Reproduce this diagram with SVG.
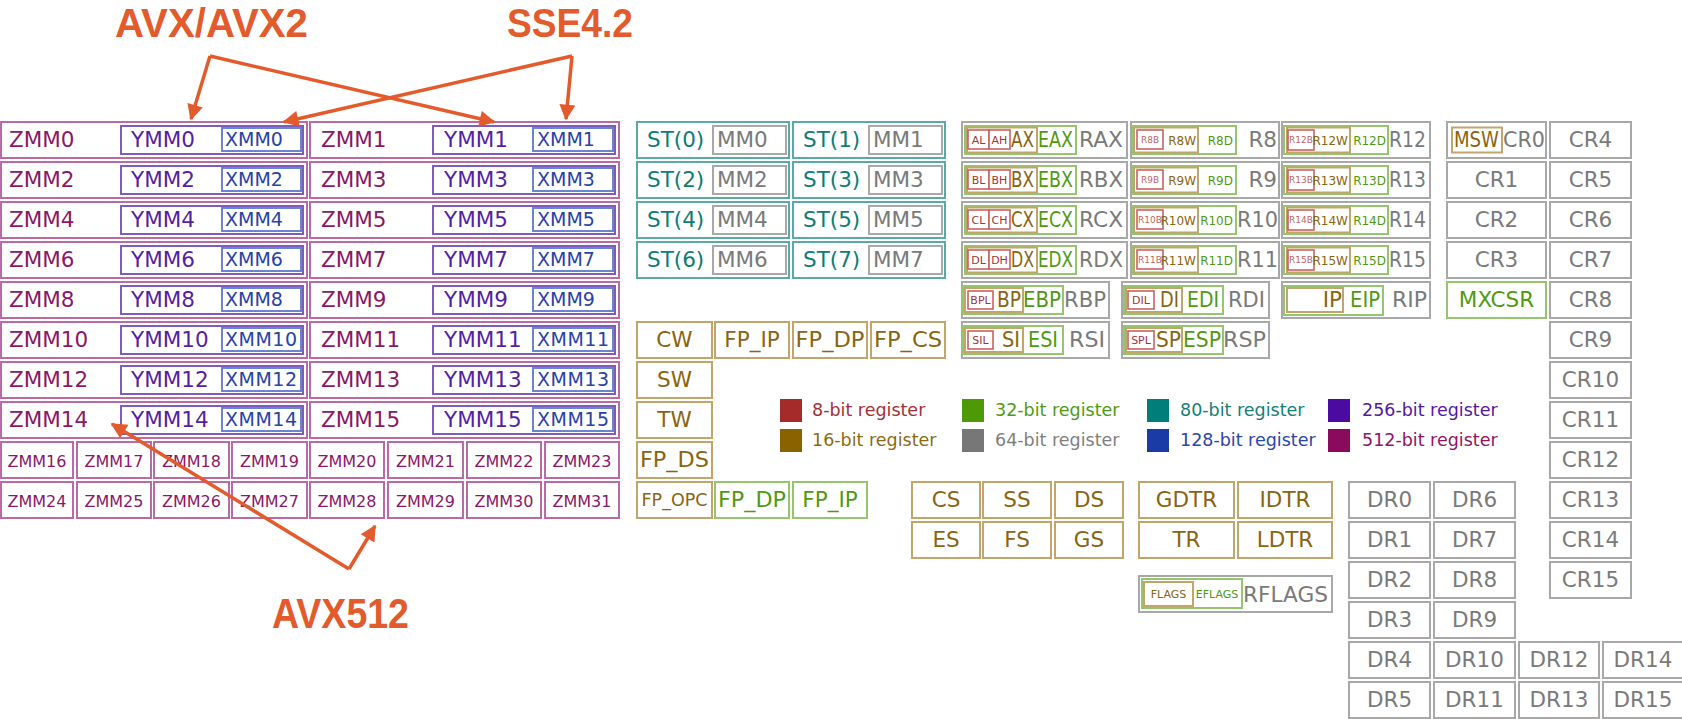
<svg xmlns="http://www.w3.org/2000/svg" width="1682" height="719" viewBox="0 0 1682 719">
<defs>
<style>
text{font-family:"DejaVu Sans","Liberation Sans",sans-serif;font-size:21.5px}
rect{fill:#fff;stroke-width:2}
.bz{stroke:#b86aa9}
.by{stroke:#7e5cbf}
.bx{stroke:#6a84cf}
.bt{stroke:#5aa9a5}
.bg{stroke:#a8a8a8}
.bn{stroke:#c2a56a}
.be{stroke:#95c56d}
.br{stroke:#c86262;stroke-width:1.6}
.tz{fill:#8b1767}
.ty{fill:#561fa3}
.tx{fill:#2843a6;font-size:19px}
.tt{fill:#0d7d77}
.tg{fill:#7a7a7a}
.tn{fill:#8a6410}
.te{fill:#4f9a12}
.tr{fill:#a8333a}
.tl{fill:#c06565}
.s9{font-size:9px}
.s11{font-size:11px}
.s12{font-size:12px}
.s16{font-size:16px}
.lg{font-size:17.5px}
.m{text-anchor:middle}
.e{text-anchor:end}
.lab{font-family:"Liberation Sans","DejaVu Sans",sans-serif;font-weight:bold;fill:#e35b2c}
.arr{fill:none;stroke:#e35b2c;stroke-width:3.5}
</style>
<marker id="ah" viewBox="0 0 10 10" refX="9" refY="5" markerWidth="20" markerHeight="16" markerUnits="userSpaceOnUse" orient="auto">
<path d="M0,0 L10,5 L0,10 z" fill="#e35b2c"/>
</marker>
</defs>
<rect x="0" y="0" width="1682" height="719" style="fill:#fff;stroke:none"/>

<!-- ZMM / YMM / XMM rows -->
<g id="zmm0"><rect class="bz" x="1" y="122" width="306" height="36"/><text class="tz" x="9" y="147">ZMM0</text><g id="ymm0"><rect class="by" x="121" y="126" width="182" height="28"/><text class="ty" x="131" y="147">YMM0</text><g id="xmm0"><rect class="bx" x="222" y="128" width="79" height="23"/><text class="tx" x="225" y="146">XMM0</text></g></g></g>
<g id="zmm1"><rect class="bz" x="310" y="122" width="309" height="36"/><text class="tz" x="321" y="147">ZMM1</text><g id="ymm1"><rect class="by" x="433" y="126" width="182" height="28"/><text class="ty" x="444" y="147">YMM1</text><g id="xmm1"><rect class="bx" x="533" y="128" width="80" height="23"/><text class="tx" x="537" y="146">XMM1</text></g></g></g>
<g id="zmm2"><rect class="bz" x="1" y="162" width="306" height="36"/><text class="tz" x="9" y="187">ZMM2</text><g id="ymm2"><rect class="by" x="121" y="166" width="182" height="28"/><text class="ty" x="131" y="187">YMM2</text><g id="xmm2"><rect class="bx" x="222" y="168" width="79" height="23"/><text class="tx" x="225" y="186">XMM2</text></g></g></g>
<g id="zmm3"><rect class="bz" x="310" y="162" width="309" height="36"/><text class="tz" x="321" y="187">ZMM3</text><g id="ymm3"><rect class="by" x="433" y="166" width="182" height="28"/><text class="ty" x="444" y="187">YMM3</text><g id="xmm3"><rect class="bx" x="533" y="168" width="80" height="23"/><text class="tx" x="537" y="186">XMM3</text></g></g></g>
<g id="zmm4"><rect class="bz" x="1" y="202" width="306" height="36"/><text class="tz" x="9" y="227">ZMM4</text><g id="ymm4"><rect class="by" x="121" y="206" width="182" height="28"/><text class="ty" x="131" y="227">YMM4</text><g id="xmm4"><rect class="bx" x="222" y="208" width="79" height="23"/><text class="tx" x="225" y="226">XMM4</text></g></g></g>
<g id="zmm5"><rect class="bz" x="310" y="202" width="309" height="36"/><text class="tz" x="321" y="227">ZMM5</text><g id="ymm5"><rect class="by" x="433" y="206" width="182" height="28"/><text class="ty" x="444" y="227">YMM5</text><g id="xmm5"><rect class="bx" x="533" y="208" width="80" height="23"/><text class="tx" x="537" y="226">XMM5</text></g></g></g>
<g id="zmm6"><rect class="bz" x="1" y="242" width="306" height="36"/><text class="tz" x="9" y="267">ZMM6</text><g id="ymm6"><rect class="by" x="121" y="246" width="182" height="28"/><text class="ty" x="131" y="267">YMM6</text><g id="xmm6"><rect class="bx" x="222" y="248" width="79" height="23"/><text class="tx" x="225" y="266">XMM6</text></g></g></g>
<g id="zmm7"><rect class="bz" x="310" y="242" width="309" height="36"/><text class="tz" x="321" y="267">ZMM7</text><g id="ymm7"><rect class="by" x="433" y="246" width="182" height="28"/><text class="ty" x="444" y="267">YMM7</text><g id="xmm7"><rect class="bx" x="533" y="248" width="80" height="23"/><text class="tx" x="537" y="266">XMM7</text></g></g></g>
<g id="zmm8"><rect class="bz" x="1" y="282" width="306" height="36"/><text class="tz" x="9" y="307">ZMM8</text><g id="ymm8"><rect class="by" x="121" y="286" width="182" height="28"/><text class="ty" x="131" y="307">YMM8</text><g id="xmm8"><rect class="bx" x="222" y="288" width="79" height="23"/><text class="tx" x="225" y="306">XMM8</text></g></g></g>
<g id="zmm9"><rect class="bz" x="310" y="282" width="309" height="36"/><text class="tz" x="321" y="307">ZMM9</text><g id="ymm9"><rect class="by" x="433" y="286" width="182" height="28"/><text class="ty" x="444" y="307">YMM9</text><g id="xmm9"><rect class="bx" x="533" y="288" width="80" height="23"/><text class="tx" x="537" y="306">XMM9</text></g></g></g>
<g id="zmm10"><rect class="bz" x="1" y="322" width="306" height="36"/><text class="tz" x="9" y="347">ZMM10</text><g id="ymm10"><rect class="by" x="121" y="326" width="182" height="28"/><text class="ty" x="131" y="347">YMM10</text><g id="xmm10"><rect class="bx" x="222" y="328" width="79" height="23"/><text class="tx" x="225" y="346" textLength="72">XMM10</text></g></g></g>
<g id="zmm11"><rect class="bz" x="310" y="322" width="309" height="36"/><text class="tz" x="321" y="347">ZMM11</text><g id="ymm11"><rect class="by" x="433" y="326" width="182" height="28"/><text class="ty" x="444" y="347">YMM11</text><g id="xmm11"><rect class="bx" x="533" y="328" width="80" height="23"/><text class="tx" x="537" y="346" textLength="72">XMM11</text></g></g></g>
<g id="zmm12"><rect class="bz" x="1" y="362" width="306" height="36"/><text class="tz" x="9" y="387">ZMM12</text><g id="ymm12"><rect class="by" x="121" y="366" width="182" height="28"/><text class="ty" x="131" y="387">YMM12</text><g id="xmm12"><rect class="bx" x="222" y="368" width="79" height="23"/><text class="tx" x="225" y="386" textLength="72">XMM12</text></g></g></g>
<g id="zmm13"><rect class="bz" x="310" y="362" width="309" height="36"/><text class="tz" x="321" y="387">ZMM13</text><g id="ymm13"><rect class="by" x="433" y="366" width="182" height="28"/><text class="ty" x="444" y="387">YMM13</text><g id="xmm13"><rect class="bx" x="533" y="368" width="80" height="23"/><text class="tx" x="537" y="386" textLength="72">XMM13</text></g></g></g>
<g id="zmm14"><rect class="bz" x="1" y="402" width="306" height="36"/><text class="tz" x="9" y="427">ZMM14</text><g id="ymm14"><rect class="by" x="121" y="406" width="182" height="28"/><text class="ty" x="131" y="427">YMM14</text><g id="xmm14"><rect class="bx" x="222" y="408" width="79" height="23"/><text class="tx" x="225" y="426" textLength="72">XMM14</text></g></g></g>
<g id="zmm15"><rect class="bz" x="310" y="402" width="309" height="36"/><text class="tz" x="321" y="427">ZMM15</text><g id="ymm15"><rect class="by" x="433" y="406" width="182" height="28"/><text class="ty" x="444" y="427">YMM15</text><g id="xmm15"><rect class="bx" x="533" y="408" width="80" height="23"/><text class="tx" x="537" y="426" textLength="72">XMM15</text></g></g></g>

<!-- ZMM16-31 -->
<g id="zmm16"><rect class="bz" x="1" y="442" width="72" height="36"/><text class="tz s16 m" x="37" y="466.5">ZMM16</text></g>
<g id="zmm17"><rect class="bz" x="77" y="442" width="74" height="36"/><text class="tz s16 m" x="114" y="466.5">ZMM17</text></g>
<g id="zmm18"><rect class="bz" x="154" y="442" width="75" height="36"/><text class="tz s16 m" x="191.5" y="466.5">ZMM18</text></g>
<g id="zmm19"><rect class="bz" x="232" y="442" width="75" height="36"/><text class="tz s16 m" x="269.5" y="466.5">ZMM19</text></g>
<g id="zmm20"><rect class="bz" x="310" y="442" width="74" height="36"/><text class="tz s16 m" x="347" y="466.5">ZMM20</text></g>
<g id="zmm21"><rect class="bz" x="388" y="442" width="75" height="36"/><text class="tz s16 m" x="425.5" y="466.5">ZMM21</text></g>
<g id="zmm22"><rect class="bz" x="467" y="442" width="74" height="36"/><text class="tz s16 m" x="504" y="466.5">ZMM22</text></g>
<g id="zmm23"><rect class="bz" x="545" y="442" width="74" height="36"/><text class="tz s16 m" x="582" y="466.5">ZMM23</text></g>
<g id="zmm24"><rect class="bz" x="1" y="482" width="72" height="36"/><text class="tz s16 m" x="37" y="506.5">ZMM24</text></g>
<g id="zmm25"><rect class="bz" x="77" y="482" width="74" height="36"/><text class="tz s16 m" x="114" y="506.5">ZMM25</text></g>
<g id="zmm26"><rect class="bz" x="154" y="482" width="75" height="36"/><text class="tz s16 m" x="191.5" y="506.5">ZMM26</text></g>
<g id="zmm27"><rect class="bz" x="232" y="482" width="75" height="36"/><text class="tz s16 m" x="269.5" y="506.5">ZMM27</text></g>
<g id="zmm28"><rect class="bz" x="310" y="482" width="74" height="36"/><text class="tz s16 m" x="347" y="506.5">ZMM28</text></g>
<g id="zmm29"><rect class="bz" x="388" y="482" width="75" height="36"/><text class="tz s16 m" x="425.5" y="506.5">ZMM29</text></g>
<g id="zmm30"><rect class="bz" x="467" y="482" width="74" height="36"/><text class="tz s16 m" x="504" y="506.5">ZMM30</text></g>
<g id="zmm31"><rect class="bz" x="545" y="482" width="74" height="36"/><text class="tz s16 m" x="582" y="506.5">ZMM31</text></g>

<!-- ST / MM -->
<g id="st0"><rect class="bt" x="637" y="122" width="152" height="36"/><text class="tt" x="647" y="147">ST(0)</text><g id="mm0"><rect class="bg" x="713" y="126" width="73" height="28"/><text class="tg" x="717" y="147">MM0</text></g></g>
<g id="st1"><rect class="bt" x="793" y="122" width="152" height="36"/><text class="tt" x="803" y="147">ST(1)</text><g id="mm1"><rect class="bg" x="869" y="126" width="73" height="28"/><text class="tg" x="873" y="147">MM1</text></g></g>
<g id="st2"><rect class="bt" x="637" y="162" width="152" height="36"/><text class="tt" x="647" y="187">ST(2)</text><g id="mm2"><rect class="bg" x="713" y="166" width="73" height="28"/><text class="tg" x="717" y="187">MM2</text></g></g>
<g id="st3"><rect class="bt" x="793" y="162" width="152" height="36"/><text class="tt" x="803" y="187">ST(3)</text><g id="mm3"><rect class="bg" x="869" y="166" width="73" height="28"/><text class="tg" x="873" y="187">MM3</text></g></g>
<g id="st4"><rect class="bt" x="637" y="202" width="152" height="36"/><text class="tt" x="647" y="227">ST(4)</text><g id="mm4"><rect class="bg" x="713" y="206" width="73" height="28"/><text class="tg" x="717" y="227">MM4</text></g></g>
<g id="st5"><rect class="bt" x="793" y="202" width="152" height="36"/><text class="tt" x="803" y="227">ST(5)</text><g id="mm5"><rect class="bg" x="869" y="206" width="73" height="28"/><text class="tg" x="873" y="227">MM5</text></g></g>
<g id="st6"><rect class="bt" x="637" y="242" width="152" height="36"/><text class="tt" x="647" y="267">ST(6)</text><g id="mm6"><rect class="bg" x="713" y="246" width="73" height="28"/><text class="tg" x="717" y="267">MM6</text></g></g>
<g id="st7"><rect class="bt" x="793" y="242" width="152" height="36"/><text class="tt" x="803" y="267">ST(7)</text><g id="mm7"><rect class="bg" x="869" y="246" width="73" height="28"/><text class="tg" x="873" y="267">MM7</text></g></g>

<!-- FPU control -->
<g id="cw"><rect class="bn" x="637" y="322" width="75" height="36"/><text class="tn m" x="674.5" y="347">CW</text></g>
<g id="fp_ip"><rect class="bn" x="715" y="322" width="74" height="36"/><text class="tn m" x="752" y="347">FP_IP</text></g>
<g id="fp_dp"><rect class="bn" x="793" y="322" width="74" height="36"/><text class="tn m" x="830" y="347" textLength="69" lengthAdjust="spacingAndGlyphs">FP_DP</text></g>
<g id="fp_cs"><rect class="bn" x="871" y="322" width="74" height="36"/><text class="tn m" x="908" y="347" textLength="68" lengthAdjust="spacingAndGlyphs">FP_CS</text></g>
<g id="sw"><rect class="bn" x="637" y="362" width="75" height="36"/><text class="tn m" x="674.5" y="387">SW</text></g>
<g id="tw"><rect class="bn" x="637" y="402" width="75" height="36"/><text class="tn m" x="674.5" y="427">TW</text></g>
<g id="fp_ds"><rect class="bn" x="637" y="442" width="75" height="36"/><text class="tn m" x="674.5" y="467" textLength="69" lengthAdjust="spacingAndGlyphs">FP_DS</text></g>
<g id="fp_opc"><rect class="bn" x="637" y="482" width="75" height="36"/><text class="tn m" x="674.5" y="506" style="font-size:18px" textLength="66" lengthAdjust="spacingAndGlyphs">FP_OPC</text></g>
<g id="fp_dp32"><rect class="be" x="715" y="482" width="74" height="36"/><text class="te m" x="752" y="507" textLength="68" lengthAdjust="spacingAndGlyphs">FP_DP</text></g>
<g id="fp_ip32"><rect class="be" x="793" y="482" width="74" height="36"/><text class="te m" x="830" y="507">FP_IP</text></g>

<!-- GPR column A -->
<g id="rax"><rect class="bg" x="962" y="122" width="165" height="36"/><rect class="be" x="965" y="126" width="111" height="28"/><rect class="bn" x="967" y="127.5" width="70" height="25"/><rect class="br" x="968" y="130" width="21" height="19"/><rect class="br" x="989" y="130" width="21" height="19"/><text class="tr s11 m" x="978.5" y="143.5">AL</text><text class="tr s11 m" x="999.5" y="143.5">AH</text><text class="tn" x="1011" y="147" textLength="23" lengthAdjust="spacingAndGlyphs">AX</text><text class="te" x="1038" y="147" textLength="35" lengthAdjust="spacingAndGlyphs">EAX</text><text class="tg" x="1079" y="147" textLength="44" lengthAdjust="spacingAndGlyphs">RAX</text></g>
<g id="rbx"><rect class="bg" x="962" y="162" width="165" height="36"/><rect class="be" x="965" y="166" width="111" height="28"/><rect class="bn" x="967" y="167.5" width="70" height="25"/><rect class="br" x="968" y="170" width="21" height="19"/><rect class="br" x="989" y="170" width="21" height="19"/><text class="tr s11 m" x="978.5" y="183.5">BL</text><text class="tr s11 m" x="999.5" y="183.5">BH</text><text class="tn" x="1011" y="187" textLength="23" lengthAdjust="spacingAndGlyphs">BX</text><text class="te" x="1038" y="187" textLength="35" lengthAdjust="spacingAndGlyphs">EBX</text><text class="tg" x="1079" y="187" textLength="44" lengthAdjust="spacingAndGlyphs">RBX</text></g>
<g id="rcx"><rect class="bg" x="962" y="202" width="165" height="36"/><rect class="be" x="965" y="206" width="111" height="28"/><rect class="bn" x="967" y="207.5" width="70" height="25"/><rect class="br" x="968" y="210" width="21" height="19"/><rect class="br" x="989" y="210" width="21" height="19"/><text class="tr s11 m" x="978.5" y="223.5">CL</text><text class="tr s11 m" x="999.5" y="223.5">CH</text><text class="tn" x="1011" y="227" textLength="23" lengthAdjust="spacingAndGlyphs">CX</text><text class="te" x="1038" y="227" textLength="35" lengthAdjust="spacingAndGlyphs">ECX</text><text class="tg" x="1079" y="227" textLength="44" lengthAdjust="spacingAndGlyphs">RCX</text></g>
<g id="rdx"><rect class="bg" x="962" y="242" width="165" height="36"/><rect class="be" x="965" y="246" width="111" height="28"/><rect class="bn" x="967" y="247.5" width="70" height="25"/><rect class="br" x="968" y="250" width="21" height="19"/><rect class="br" x="989" y="250" width="21" height="19"/><text class="tr s11 m" x="978.5" y="263.5">DL</text><text class="tr s11 m" x="999.5" y="263.5">DH</text><text class="tn" x="1011" y="267" textLength="23" lengthAdjust="spacingAndGlyphs">DX</text><text class="te" x="1038" y="267" textLength="35" lengthAdjust="spacingAndGlyphs">EDX</text><text class="tg" x="1079" y="267" textLength="44" lengthAdjust="spacingAndGlyphs">RDX</text></g>
<g id="rbp"><rect class="bg" x="962" y="282" width="147" height="36"/><rect class="be" x="963" y="286" width="100" height="28"/><rect class="bn" x="965" y="288" width="58" height="24"/><rect class="br" x="968" y="291" width="25" height="18"/><text class="tr s11 m" x="980.5" y="304">BPL</text><text class="tn" x="997" y="307" textLength="24" lengthAdjust="spacingAndGlyphs">BP</text><text class="te" x="1023" y="307" textLength="38" lengthAdjust="spacingAndGlyphs">EBP</text><text class="tg" x="1064" y="307" textLength="42" lengthAdjust="spacingAndGlyphs">RBP</text></g>
<g id="rsi"><rect class="bg" x="962" y="322" width="147" height="36"/><rect class="be" x="963" y="326" width="100" height="28"/><rect class="bn" x="965" y="328" width="58" height="24"/><rect class="br" x="968" y="331" width="25" height="18"/><text class="tr s11 m" x="980.5" y="344">SIL</text><text class="tn" x="1002" y="347" textLength="18" lengthAdjust="spacingAndGlyphs">SI</text><text class="te" x="1028" y="347" textLength="30" lengthAdjust="spacingAndGlyphs">ESI</text><text class="tg" x="1069" y="347" textLength="36" lengthAdjust="spacingAndGlyphs">RSI</text></g>
<!-- GPR column B -->
<g id="rdi"><rect class="bg" x="1122" y="282" width="147" height="36"/><rect class="be" x="1124" y="286" width="99" height="28"/><rect class="bn" x="1126" y="288" width="56" height="24"/><rect class="br" x="1128" y="291" width="26" height="18"/><text class="tr s11 m" x="1141" y="304">DIL</text><text class="tn" x="1160" y="307" textLength="19" lengthAdjust="spacingAndGlyphs">DI</text><text class="te" x="1187" y="307" textLength="32" lengthAdjust="spacingAndGlyphs">EDI</text><text class="tg" x="1228" y="307" textLength="37" lengthAdjust="spacingAndGlyphs">RDI</text></g>
<g id="rsp"><rect class="bg" x="1122" y="322" width="147" height="36"/><rect class="be" x="1124" y="326" width="99" height="28"/><rect class="bn" x="1126" y="328" width="56" height="24"/><rect class="br" x="1128" y="331" width="26" height="18"/><text class="tr s11 m" x="1141" y="344">SPL</text><text class="tn" x="1156" y="347" textLength="25" lengthAdjust="spacingAndGlyphs">SP</text><text class="te" x="1183" y="347" textLength="38" lengthAdjust="spacingAndGlyphs">ESP</text><text class="tg" x="1223" y="347" textLength="43" lengthAdjust="spacingAndGlyphs">RSP</text></g>
<g id="r8"><rect class="bg" x="1131" y="122" width="148" height="36"/><rect class="be" x="1133" y="126" width="103" height="28"/><rect class="bn" x="1134" y="127.5" width="64" height="25"/><rect class="br" x="1137" y="130" width="26" height="19"/><text class="tl s9 m" x="1150" y="143">R8B</text><text class="tn s12 e" x="1196" y="145">R8W</text><text class="te s12 e" x="1233" y="145">R8D</text><text class="tg e" x="1277" y="147">R8</text></g>
<g id="r9"><rect class="bg" x="1131" y="162" width="148" height="36"/><rect class="be" x="1133" y="166" width="103" height="28"/><rect class="bn" x="1134" y="167.5" width="64" height="25"/><rect class="br" x="1137" y="170" width="26" height="19"/><text class="tl s9 m" x="1150" y="183">R9B</text><text class="tn s12 e" x="1196" y="185">R9W</text><text class="te s12 e" x="1233" y="185">R9D</text><text class="tg e" x="1277" y="187">R9</text></g>
<g id="r10"><rect class="bg" x="1131" y="202" width="148" height="36"/><rect class="be" x="1133" y="206" width="103" height="28"/><rect class="bn" x="1134" y="207.5" width="64" height="25"/><rect class="br" x="1137" y="210" width="26" height="19"/><text class="tl s9 m" x="1150" y="223">R10B</text><text class="tn s12 e" x="1196" y="225">R10W</text><text class="te s12 e" x="1233" y="225">R10D</text><text class="tg" x="1237" y="227" textLength="41" lengthAdjust="spacingAndGlyphs">R10</text></g>
<g id="r11"><rect class="bg" x="1131" y="242" width="148" height="36"/><rect class="be" x="1133" y="246" width="103" height="28"/><rect class="bn" x="1134" y="247.5" width="64" height="25"/><rect class="br" x="1137" y="250" width="26" height="19"/><text class="tl s9 m" x="1150" y="263">R11B</text><text class="tn s12 e" x="1196" y="265">R11W</text><text class="te s12 e" x="1233" y="265">R11D</text><text class="tg" x="1237" y="267" textLength="41" lengthAdjust="spacingAndGlyphs">R11</text></g>
<!-- GPR column C -->
<g id="r12"><rect class="bg" x="1282" y="122" width="148" height="36"/><rect class="be" x="1284" y="126" width="104" height="28"/><rect class="bn" x="1287" y="127.5" width="63" height="25"/><rect class="br" x="1288" y="130" width="26" height="20"/><text class="tl s9 m" x="1301" y="143">R12B</text><text class="tn s12 e" x="1348" y="145">R12W</text><text class="te s12 e" x="1386" y="145">R12D</text><text class="tg" x="1389" y="147" textLength="37" lengthAdjust="spacingAndGlyphs">R12</text></g>
<g id="r13"><rect class="bg" x="1282" y="162" width="148" height="36"/><rect class="be" x="1284" y="166" width="104" height="28"/><rect class="bn" x="1287" y="167.5" width="63" height="25"/><rect class="br" x="1288" y="170" width="26" height="20"/><text class="tl s9 m" x="1301" y="183">R13B</text><text class="tn s12 e" x="1348" y="185">R13W</text><text class="te s12 e" x="1386" y="185">R13D</text><text class="tg" x="1389" y="187" textLength="37" lengthAdjust="spacingAndGlyphs">R13</text></g>
<g id="r14"><rect class="bg" x="1282" y="202" width="148" height="36"/><rect class="be" x="1284" y="206" width="104" height="28"/><rect class="bn" x="1287" y="207.5" width="63" height="25"/><rect class="br" x="1288" y="210" width="26" height="20"/><text class="tl s9 m" x="1301" y="223">R14B</text><text class="tn s12 e" x="1348" y="225">R14W</text><text class="te s12 e" x="1386" y="225">R14D</text><text class="tg" x="1389" y="227" textLength="37" lengthAdjust="spacingAndGlyphs">R14</text></g>
<g id="r15"><rect class="bg" x="1282" y="242" width="148" height="36"/><rect class="be" x="1284" y="246" width="104" height="28"/><rect class="bn" x="1287" y="247.5" width="63" height="25"/><rect class="br" x="1288" y="250" width="26" height="20"/><text class="tl s9 m" x="1301" y="263">R15B</text><text class="tn s12 e" x="1348" y="265">R15W</text><text class="te s12 e" x="1386" y="265">R15D</text><text class="tg" x="1389" y="267" textLength="37" lengthAdjust="spacingAndGlyphs">R15</text></g>
<g id="rip"><rect class="bg" x="1282" y="282" width="148" height="36"/><rect class="be" x="1284" y="286" width="99" height="29"/><rect class="bn" x="1287" y="288" width="56" height="24"/><text class="tn e" x="1342" y="307">IP</text><text class="te" x="1350" y="307" textLength="30" lengthAdjust="spacingAndGlyphs">EIP</text><text class="tg" x="1392" y="307" textLength="35" lengthAdjust="spacingAndGlyphs">RIP</text></g>

<!-- Control registers -->
<g id="cr0"><rect class="bg" x="1447" y="122" width="99" height="36"/><rect class="bn" x="1452" y="127.5" width="50" height="25"/><text class="tn" x="1454" y="147" textLength="45" lengthAdjust="spacingAndGlyphs">MSW</text><text class="tg" x="1503" y="147" textLength="42" lengthAdjust="spacingAndGlyphs">CR0</text></g>
<g id="cr1"><rect class="bg" x="1447" y="162" width="99" height="36"/><text class="tg m" x="1496.5" y="187">CR1</text></g>
<g id="cr2"><rect class="bg" x="1447" y="202" width="99" height="36"/><text class="tg m" x="1496.5" y="227">CR2</text></g>
<g id="cr3"><rect class="bg" x="1447" y="242" width="99" height="36"/><text class="tg m" x="1496.5" y="267">CR3</text></g>
<g id="mxcsr"><rect class="be" x="1447" y="282" width="99" height="36"/><text class="te m" x="1496.5" y="307">MXCSR</text></g>
<g id="cr4"><rect class="bg" x="1550" y="122" width="81" height="36"/><text class="tg m" x="1590.5" y="147">CR4</text></g>
<g id="cr5"><rect class="bg" x="1550" y="162" width="81" height="36"/><text class="tg m" x="1590.5" y="187">CR5</text></g>
<g id="cr6"><rect class="bg" x="1550" y="202" width="81" height="36"/><text class="tg m" x="1590.5" y="227">CR6</text></g>
<g id="cr7"><rect class="bg" x="1550" y="242" width="81" height="36"/><text class="tg m" x="1590.5" y="267">CR7</text></g>
<g id="cr8"><rect class="bg" x="1550" y="282" width="81" height="36"/><text class="tg m" x="1590.5" y="307">CR8</text></g>
<g id="cr9"><rect class="bg" x="1550" y="322" width="81" height="36"/><text class="tg m" x="1590.5" y="347">CR9</text></g>
<g id="cr10"><rect class="bg" x="1550" y="362" width="81" height="36"/><text class="tg m" x="1590.5" y="387">CR10</text></g>
<g id="cr11"><rect class="bg" x="1550" y="402" width="81" height="36"/><text class="tg m" x="1590.5" y="427">CR11</text></g>
<g id="cr12"><rect class="bg" x="1550" y="442" width="81" height="36"/><text class="tg m" x="1590.5" y="467">CR12</text></g>
<g id="cr13"><rect class="bg" x="1550" y="482" width="81" height="36"/><text class="tg m" x="1590.5" y="507">CR13</text></g>
<g id="cr14"><rect class="bg" x="1550" y="522" width="81" height="36"/><text class="tg m" x="1590.5" y="547">CR14</text></g>
<g id="cr15"><rect class="bg" x="1550" y="562" width="81" height="36"/><text class="tg m" x="1590.5" y="587">CR15</text></g>

<!-- Debug registers -->
<g id="dr0"><rect class="bg" x="1349" y="482" width="81" height="36"/><text class="tg m" x="1389.5" y="507">DR0</text></g>
<g id="dr6"><rect class="bg" x="1434" y="482" width="81" height="36"/><text class="tg m" x="1474.5" y="507">DR6</text></g>
<g id="dr1"><rect class="bg" x="1349" y="522" width="81" height="36"/><text class="tg m" x="1389.5" y="547">DR1</text></g>
<g id="dr7"><rect class="bg" x="1434" y="522" width="81" height="36"/><text class="tg m" x="1474.5" y="547">DR7</text></g>
<g id="dr2"><rect class="bg" x="1349" y="562" width="81" height="36"/><text class="tg m" x="1389.5" y="587">DR2</text></g>
<g id="dr8"><rect class="bg" x="1434" y="562" width="81" height="36"/><text class="tg m" x="1474.5" y="587">DR8</text></g>
<g id="dr3"><rect class="bg" x="1349" y="602" width="81" height="36"/><text class="tg m" x="1389.5" y="627">DR3</text></g>
<g id="dr9"><rect class="bg" x="1434" y="602" width="81" height="36"/><text class="tg m" x="1474.5" y="627">DR9</text></g>
<g id="dr4"><rect class="bg" x="1349" y="642" width="81" height="36"/><text class="tg m" x="1389.5" y="667">DR4</text></g>
<g id="dr10"><rect class="bg" x="1434" y="642" width="81" height="36"/><text class="tg m" x="1474.5" y="667">DR10</text></g>
<g id="dr12"><rect class="bg" x="1519" y="642" width="80" height="36"/><text class="tg m" x="1559" y="667">DR12</text></g>
<g id="dr14"><rect class="bg" x="1603" y="642" width="80" height="36"/><text class="tg m" x="1643" y="667">DR14</text></g>
<g id="dr5"><rect class="bg" x="1349" y="682" width="81" height="36"/><text class="tg m" x="1389.5" y="707">DR5</text></g>
<g id="dr11"><rect class="bg" x="1434" y="682" width="81" height="36"/><text class="tg m" x="1474.5" y="707">DR11</text></g>
<g id="dr13"><rect class="bg" x="1519" y="682" width="80" height="36"/><text class="tg m" x="1559" y="707">DR13</text></g>
<g id="dr15"><rect class="bg" x="1603" y="682" width="80" height="36"/><text class="tg m" x="1643" y="707">DR15</text></g>

<!-- Segment / system registers -->
<g id="cs"><rect class="bn" x="912" y="482" width="68" height="36"/><text class="tn m" x="946" y="507">CS</text></g>
<g id="ss"><rect class="bn" x="983" y="482" width="68" height="36"/><text class="tn m" x="1017" y="507">SS</text></g>
<g id="ds"><rect class="bn" x="1055" y="482" width="68" height="36"/><text class="tn m" x="1089" y="507">DS</text></g>
<g id="es"><rect class="bn" x="912" y="522" width="68" height="36"/><text class="tn m" x="946" y="547">ES</text></g>
<g id="fs"><rect class="bn" x="983" y="522" width="68" height="36"/><text class="tn m" x="1017" y="547">FS</text></g>
<g id="gs"><rect class="bn" x="1055" y="522" width="68" height="36"/><text class="tn m" x="1089" y="547">GS</text></g>
<g id="gdtr"><rect class="bn" x="1139" y="482" width="95" height="36"/><text class="tn m" x="1186.5" y="507">GDTR</text></g>
<g id="idtr"><rect class="bn" x="1238" y="482" width="94" height="36"/><text class="tn m" x="1285" y="507">IDTR</text></g>
<g id="tr"><rect class="bn" x="1139" y="522" width="95" height="36"/><text class="tn m" x="1186.5" y="547">TR</text></g>
<g id="ldtr"><rect class="bn" x="1238" y="522" width="94" height="36"/><text class="tn m" x="1285" y="547">LDTR</text></g>
<g id="rflags"><rect class="bg" x="1139" y="576" width="193" height="36"/><rect class="be" x="1142" y="579" width="100" height="29"/><rect class="bn" x="1144" y="582" width="49" height="24"/><text class="tn s11 m" x="1168.5" y="598">FLAGS</text><text class="te s11 m" x="1217" y="598">EFLAGS</text><text class="tg" x="1243" y="602" textLength="85" lengthAdjust="spacingAndGlyphs">RFLAGS</text></g>

<!-- Legend -->
<g id="legend">
<rect x="780" y="399" width="22" height="23" style="fill:#a52a2a;stroke:none"/><text class="lg" x="812" y="416" style="fill:#a33035">8-bit register</text>
<rect x="780" y="429" width="22" height="23" style="fill:#8b6200;stroke:none"/><text class="lg" x="812" y="446" style="fill:#8c6a14">16-bit register</text>
<rect x="962" y="399" width="22" height="23" style="fill:#4e9a06;stroke:none"/><text class="lg" x="995" y="416" style="fill:#4f9a14">32-bit register</text>
<rect x="962" y="429" width="22" height="23" style="fill:#777777;stroke:none"/><text class="lg" x="995" y="446" style="fill:#7f7f7f">64-bit register</text>
<rect x="1147" y="399" width="22" height="23" style="fill:#007f7a;stroke:none"/><text class="lg" x="1180" y="416" style="fill:#138078">80-bit register</text>
<rect x="1147" y="429" width="22" height="23" style="fill:#1a3ba6;stroke:none"/><text class="lg" x="1180" y="446" style="fill:#2a46a8">128-bit register</text>
<rect x="1328" y="399" width="22" height="23" style="fill:#4b0aa0;stroke:none"/><text class="lg" x="1362" y="416" style="fill:#5318a0">256-bit register</text>
<rect x="1328" y="429" width="22" height="23" style="fill:#8a0a5c;stroke:none"/><text class="lg" x="1362" y="446" style="fill:#8e1466">512-bit register</text>
</g>

<!-- Annotation labels -->
<g id="label-avx"><text class="lab" x="115" y="37" style="font-size:40px" textLength="193" lengthAdjust="spacingAndGlyphs">AVX/AVX2</text></g>
<g id="label-sse"><text class="lab" x="507" y="37" style="font-size:40px" textLength="126" lengthAdjust="spacingAndGlyphs">SSE4.2</text></g>
<g id="label-avx512"><text class="lab" x="272" y="628" style="font-size:42px" textLength="137" lengthAdjust="spacingAndGlyphs">AVX512</text></g>

<!-- Connectors -->
<g id="connectors">
<path class="arr" d="M210,56 L191,119" marker-end="url(#ah)"/>
<path class="arr" d="M210,56 L494,122" marker-end="url(#ah)"/>
<path class="arr" d="M572,56 L566,119" marker-end="url(#ah)"/>
<path class="arr" d="M572,56 L284,122" marker-end="url(#ah)"/>
<path class="arr" d="M349,569 L112,424" marker-end="url(#ah)"/>
<path class="arr" d="M349,569 L375,526" marker-end="url(#ah)"/>
</g>
</svg>
